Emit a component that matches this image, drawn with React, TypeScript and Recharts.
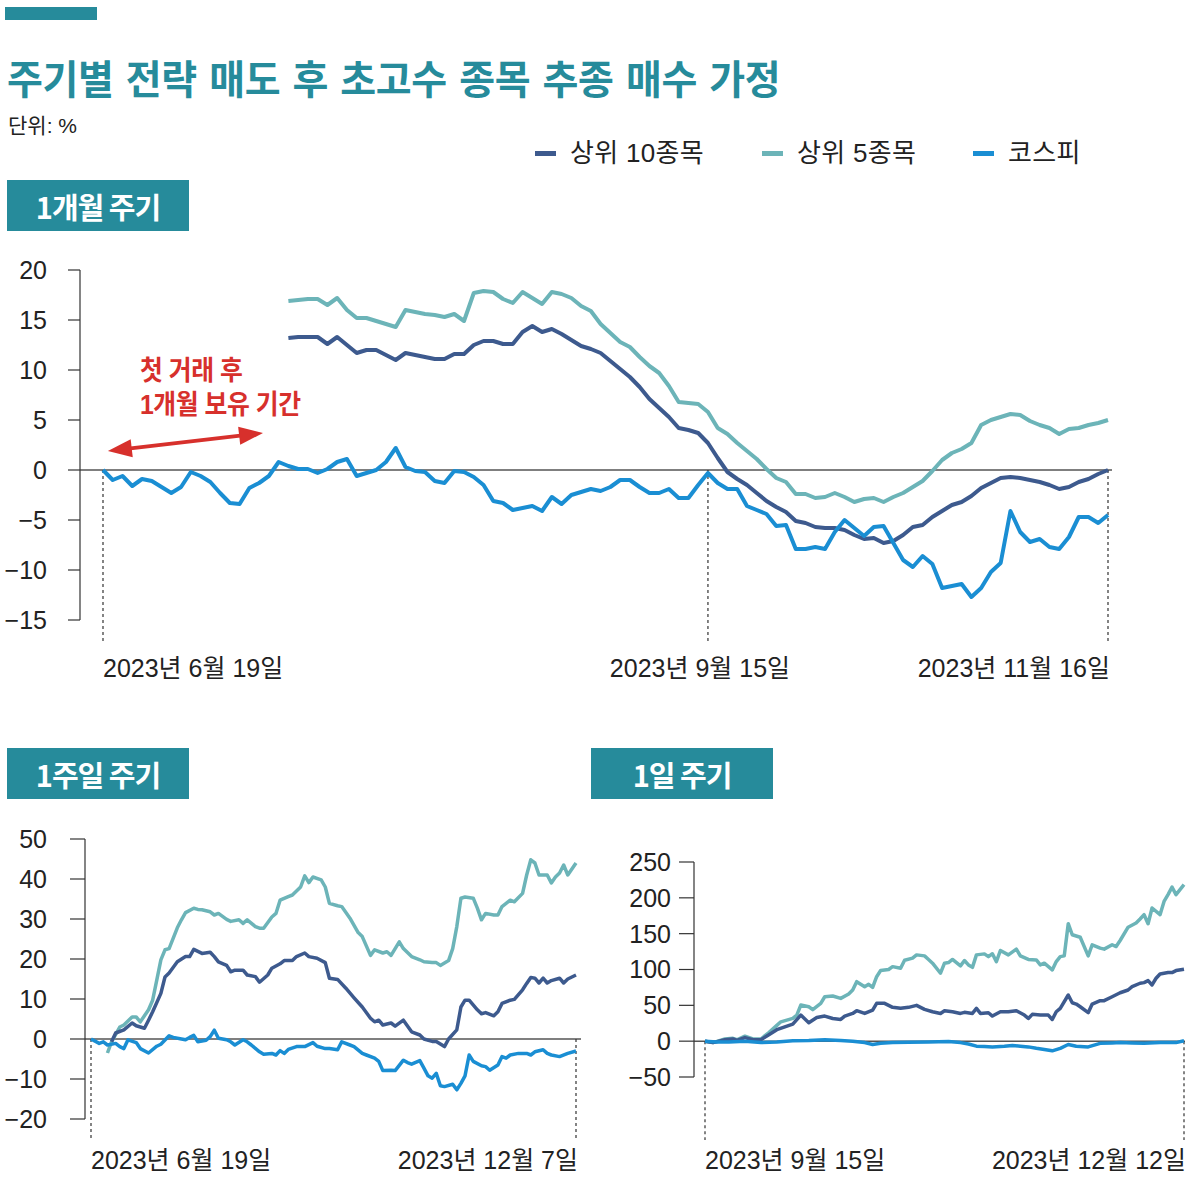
import React from 'react';
import { LineChart, Line, XAxis, YAxis, ReferenceLine } from 'recharts';

// ---------------- DATA ----------------
const seriesNames = ['상위 10종목', '상위 5종목', '코스피'];

// 1개월 주기 : trading-day index 0..103 (2023-06-19 ~ 2023-11-16)
const m1Kospi = [
  0, -1.0, -0.6, -1.6, -0.9, -1.1, -1.7, -2.3, -1.7, -0.2,
  -0.6, -1.2, -2.3, -3.3, -3.4, -1.8, -1.3, -0.6, 0.8, 0.4,
  0.1, 0.1, -0.3, 0.1, 0.8, 1.1, -0.6, -0.3, 0.0, 0.8,
  2.2, 0.3, -0.1, -0.2, -1.1, -1.3, -0.1, -0.2, -0.7, -1.5,
  -3.1, -3.3, -4.0, -3.8, -3.6, -4.1, -2.7, -3.4, -2.5, -2.2,
  -1.9, -2.1, -1.7, -1.0, -1.0, -1.7, -2.3, -2.3, -1.9, -2.8,
  -2.8, -1.5, -0.3, -1.3, -1.9, -1.9, -3.6, -4.0, -4.4, -5.6,
  -5.5, -7.9, -7.9, -7.7, -7.9, -6.2, -5.0, -5.8, -6.6, -5.7,
  -5.6, -7.3, -9.0, -9.7, -8.6, -9.4, -11.8, -11.6, -11.4, -12.7,
  -11.8, -10.2, -9.3, -4.1, -6.2, -7.2, -6.9, -7.7, -7.9, -6.7,
  -4.7, -4.7, -5.3, -4.5,
];
const m1Start = 19; // first trade after the 1-month holding period
const m1Top10 = [
  13.2, 13.3, 13.3, 13.3, 12.6, 13.3, 12.5, 11.7, 12.0, 12.0,
  11.5, 11.0, 11.7, 11.5, 11.3, 11.1, 11.1, 11.6, 11.6, 12.5,
  12.9, 12.9, 12.6, 12.6, 13.8, 14.4, 13.8, 14.1, 13.6, 13.0,
  12.4, 12.1, 11.7, 10.9, 10.1, 9.3, 8.3, 7.1, 6.2, 5.3,
  4.2, 4.0, 3.7, 2.7, 1.2, -0.2, -0.9, -1.5, -2.3, -3.1,
  -3.7, -4.2, -5.1, -5.3, -5.7, -5.8, -5.8, -6.0, -6.5, -6.9,
  -6.8, -7.3, -7.1, -6.5, -5.7, -5.5, -4.7, -4.1, -3.5, -3.2,
  -2.6, -1.8, -1.3, -0.8, -0.7, -0.8, -1.0, -1.2, -1.5, -1.9,
  -1.7, -1.2, -0.9, -0.4, 0.0,
];
const m1Top5 = [
  16.9, 17.0, 17.1, 17.1, 16.5, 17.2, 16.0, 15.2, 15.2, 14.9,
  14.6, 14.3, 16.0, 15.8, 15.6, 15.5, 15.3, 15.6, 14.9, 17.7,
  17.9, 17.8, 17.1, 16.7, 17.8, 17.2, 16.6, 17.8, 17.6, 17.2,
  16.4, 15.9, 14.6, 13.7, 12.8, 12.3, 11.3, 10.4, 9.7, 8.4,
  6.8, 6.7, 6.6, 5.8, 4.2, 3.6, 2.7, 1.9, 1.1, 0.1,
  -0.8, -1.2, -2.4, -2.4, -2.8, -2.7, -2.3, -2.7, -3.2, -2.9,
  -2.8, -3.2, -2.7, -2.3, -1.7, -1.1, -0.1, 1.0, 1.7, 2.1,
  2.7, 4.5, 5.0, 5.3, 5.6, 5.5, 4.9, 4.5, 4.2, 3.6,
  4.1, 4.2, 4.5, 4.7, 5.0,
];
const m1TickIdx = [0, 62, 103];
const m1TickLabels = ['2023년 6월 19일', '2023년 9월 15일', '2023년 11월 16일'];
const m1YTicks = [-15, -10, -5, 0, 5, 10, 15, 20];

// 1주일 주기 : [trading day, %] (2023-06-19 ~ 2023-12-07)
const w1Kospi: [number, number][] = [
  [0, 0], [2, -1.1], [3, -0.7], [4, -1.5], [6, -1.1], [7, -1.9], [8, -2.4], [9, -0.2], [11, -0.9], [12, -2.4],
  [14, -3.5], [16, -1.8], [17, -1.3], [19, 0.8], [20, 0.4], [22, 0], [23, -0.2], [24, 0.4], [25, 0.9], [26, -0.7],
  [28, -0.3], [29, 0.6], [30, 2.2], [31, 0.2], [33, -0.2], [34, -0.7], [35, -1.5], [37, -0.2], [38, -0.7], [39, -1.5],
  [41, -3.2], [42, -3.8], [44, -3.6], [45, -4.0], [46, -2.9], [47, -3.6], [48, -2.6], [50, -1.9], [52, -1.9], [54, -0.9],
  [55, -1.8], [57, -2.4], [58, -2.4], [60, -2.7], [61, -0.7], [63, -1.5], [64, -1.9], [66, -3.6], [67, -4.0], [69, -4.8],
  [70, -5.6], [71, -7.9], [73, -7.8], [74, -7.9], [76, -5.3], [77, -5.9], [78, -6.3], [80, -5.4], [81, -7.3], [82, -9.2],
  [83, -9.8], [84, -8.6], [85, -11.7], [86, -11.9], [88, -11.3], [89, -12.7], [90, -11.1], [91, -9.2], [92, -4.0], [93, -5.6],
  [95, -6.7], [96, -6.9], [97, -7.8], [99, -6.5], [100, -4.4], [101, -4.8], [102, -4.0], [104, -3.6], [106, -3.6], [107, -4.0],
  [108, -3.2], [110, -2.7], [111, -3.6], [112, -4.0], [114, -4.4], [116, -3.6], [118, -3.0],
];
const w1Top10: [number, number][] = [
  [5, -0.7], [6, 1.5], [8, 2.3], [10, 4.0], [11, 3.3], [13, 2.7], [14, 4.7], [15, 6.8], [17, 11.4], [18, 15.5],
  [19, 16.5], [21, 19.3], [23, 20.6], [24, 20.6], [25, 22.4], [26, 21.9], [27, 21.4], [29, 21.7], [30, 20.6], [31, 19.3],
  [33, 18.4], [34, 16.8], [35, 17.2], [37, 17.2], [38, 16.0], [40, 15.6], [41, 14.2], [43, 16.0], [44, 17.7], [46, 18.8],
  [47, 19.6], [49, 19.6], [50, 20.6], [52, 21.5], [53, 20.6], [55, 20.2], [57, 19.1], [58, 15.2], [60, 14.9], [62, 12.7],
  [64, 10.3], [66, 8.0], [68, 5.2], [69, 4.3], [70, 4.7], [71, 3.5], [73, 4.0], [74, 3.2], [76, 4.7], [78, 1.8],
  [80, 1.0], [81, 0], [83, -0.6], [84, -0.6], [86, -1.9], [87, 0], [89, 2.3], [90, 8.0], [91, 9.7], [92, 9.7],
  [94, 7.3], [95, 6.3], [96, 6.6], [98, 5.8], [99, 6.8], [100, 8.9], [102, 9.7], [103, 9.9], [105, 12.3], [106, 13.9],
  [107, 15.4], [108, 15.2], [109, 14.0], [110, 15.2], [111, 14.0], [112, 14.6], [114, 15.2], [115, 14.0], [116, 15.0], [118, 16.0],
];
const w1Top5: [number, number][] = [
  [4, -3.5], [5, -0.7], [7, 3.0], [8, 3.5], [10, 5.5], [11, 5.5], [12, 4.3], [14, 7.3], [15, 9.7], [16, 14.7],
  [17, 19.8], [18, 22.3], [19, 22.6], [21, 27.8], [22, 29.8], [23, 31.6], [25, 32.7], [26, 32.4], [27, 32.3], [29, 31.8],
  [30, 31.0], [31, 31.4], [33, 29.9], [34, 29.4], [36, 29.8], [37, 28.9], [38, 29.8], [40, 28.1], [41, 27.7], [42, 27.7],
  [44, 30.5], [45, 31.4], [46, 34.7], [48, 35.6], [49, 36.0], [51, 38.0], [52, 40.8], [53, 39.1], [54, 40.5], [56, 39.8],
  [57, 38.0], [58, 33.9], [60, 33.3], [61, 33.1], [63, 30.2], [65, 26.6], [66, 25.6], [68, 20.9], [69, 22.3], [71, 21.5],
  [72, 21.8], [73, 20.9], [75, 24.3], [76, 22.6], [78, 20.6], [80, 19.8], [81, 19.3], [83, 19.1], [84, 19.1], [85, 18.4],
  [87, 19.6], [88, 22.6], [89, 28.1], [90, 35.2], [91, 35.5], [93, 35.2], [94, 32.7], [95, 29.8], [96, 31.4], [98, 31.0],
  [99, 31.0], [100, 33.1], [102, 34.7], [103, 34.3], [105, 36.4], [106, 41.0], [107, 44.8], [108, 44.0], [109, 41.0], [111, 41.0],
  [112, 39.0], [113, 40.5], [114, 41.5], [115, 43.5], [116, 41.0], [118, 44.0],
];
const w1TickIdx = [0, 118];
const w1TickLabels = ['2023년 6월 19일', '2023년 12월 7일'];
const w1YTicks = [-20, -10, 0, 10, 20, 30, 40, 50];

// 1일 주기 : [step, %] (2023-09-15 ~ 2023-12-12)
const d1Kospi: [number, number][] = [
  [0, 0], [3, -1], [6, -1], [10, 0], [14, -2], [18, -1], [22, 0.5], [26, 1], [30, 2], [34, 1],
  [37, 0], [40, -2], [42, -4.7], [44, -3], [47, -2], [51, -1.5], [56, -1], [61, -0.5], [64, -2], [66, -4],
  [68, -7], [70, -7.5], [72, -8], [75, -7], [77, -6], [79, -7], [81, -8], [83, -10], [85, -11.7], [87, -13.5],
  [89, -10], [91, -4.7], [93, -7], [96, -8], [99, -3], [102, -2.5], [104, -2], [107, -2.5], [110, -3], [114, -2],
  [118, -2], [120, 0.5],
];
const d1Top10: [number, number][] = [
  [0, 0], [2, -2], [5, 2], [7, 3], [8, 1], [10, 5], [12, 2], [14, 2], [16, 9], [18, 16],
  [20, 20], [22, 23.8], [24, 36.4], [26, 25.7], [28, 33], [30, 35], [32, 31.7], [34, 30.3], [35, 35], [37, 38.7],
  [38, 42.5], [40, 38.7], [42, 43.4], [43, 52.8], [45, 52.8], [47, 47.2], [49, 45.8], [51, 47.2], [53, 50], [55, 44.4],
  [57, 41], [59, 38.7], [60, 42.5], [62, 41], [64, 38.7], [65, 40.2], [67, 38.7], [68, 45.8], [69, 38.7], [71, 39.7],
  [72, 35], [74, 41], [76, 41], [78, 42.5], [80, 36.4], [81, 31.7], [82, 37.4], [84, 36.4], [86, 36.4], [87, 30.3],
  [88, 41], [89, 45.8], [91, 64.4], [92, 53.6], [93, 51.8], [94, 48], [96, 39.7], [97, 51.8], [99, 56.5], [100, 56.5],
  [102, 62], [104, 67.6], [106, 71.4], [107, 76], [109, 80.8], [110, 81.7], [111, 84.5], [112, 78.4], [113, 87.8], [114, 93.8],
  [116, 95.7], [117, 95.7], [118, 98.5], [120, 100.4],
];
const d1Top5: [number, number][] = [
  [0, 0], [2, -2], [5, 3], [7, 4], [8, 2], [10, 7], [12, 3], [14, 3], [16, 12], [18, 22],
  [19, 27], [22, 31.8], [23, 36.4], [24, 50.4], [26, 48], [27, 44], [29, 52.7], [30, 62], [32, 63], [34, 59.7],
  [36, 65.8], [37, 71.4], [38, 83], [40, 76], [41, 79.4], [42, 75], [43, 90], [44, 98.5], [46, 100], [47, 104],
  [49, 101.8], [50, 113], [52, 115.8], [53, 120.4], [55, 119], [56, 114], [57, 108.8], [59, 94.8], [60, 108.8], [61, 109.7],
  [62, 114], [64, 105], [65, 112.5], [66, 106.4], [67, 103], [68, 120.4], [70, 121.8], [71, 118], [72, 122], [73, 111],
  [74, 126.5], [76, 120.4], [78, 128.4], [79, 119], [81, 114], [83, 113.4], [84, 106.4], [85, 108.8], [87, 99.4], [88, 111],
  [89, 118], [90, 119], [91, 163.9], [92, 148.5], [94, 145], [96, 119], [97, 134.5], [99, 129.8], [100, 128.4], [102, 134.5],
  [103, 132], [104, 140.5], [106, 159], [108, 164.8], [109, 170.4], [110, 176.5], [111, 163.9], [112, 185.8], [114, 176.5], [115, 195],
  [116, 204.5], [117, 215], [118, 204.5], [120, 218.5],
];
const d1TickIdx = [0, 120];
const d1TickLabels = ['2023년 9월 15일', '2023년 12월 12일'];
const d1YTicks = [-50, 0, 50, 100, 150, 200, 250];

// ---------------- STYLE ----------------
const C_TOP10 = '#3d5a8e';
const C_TOP5 = '#6cb4b8';
const C_KOSPI = '#1a8ed3';
const TEAL = '#268b9b';
const RED = '#d7302c';
const INK = '#222';
const AXIS = '#333';
const FONT = "'Liberation Sans', 'Noto Sans CJK KR', sans-serif";
const KR = "'Noto Sans CJK KR', 'Liberation Sans', sans-serif";
const seriesColors = [C_TOP10, C_TOP5, C_KOSPI];

// ---------------- HELPERS ----------------
const m1Rows = m1Kospi.map((k, i) => ({
  i,
  kospi: k,
  top10: i >= m1Start ? m1Top10[i - m1Start] : null,
  top5: i >= m1Start ? m1Top5[i - m1Start] : null,
}));

function mergeSeries(series: Record<string, [number, number][]>) {
  const map = new Map<number, any>();
  Object.entries(series).forEach(([key, pts]) => {
    pts.forEach(([d, v]) => {
      if (!map.has(d)) map.set(d, { d });
      map.get(d)[key] = v;
    });
  });
  return Array.from(map.values()).sort((a, b) => a.d - b.d);
}
const w1Rows = mergeSeries({ kospi: w1Kospi, top10: w1Top10, top5: w1Top5 });
const d1Rows = mergeSeries({ kospi: d1Kospi, top10: d1Top10, top5: d1Top5 });

const fmt = (v: number) => (v < 0 ? '\u2212' + Math.abs(v) : String(v));

const makeDateTick = (ticks: number[], labels: string[], anchors: string[], dxs: number[], dy: number) =>
  (props: any) => {
    const { x, y, payload } = props;
    const k = ticks.indexOf(payload.value);
    if (k < 0) return <g />;
    return (
      <text x={x + dxs[k]} y={y + dy} textAnchor={anchors[k]} fontSize={25} fill={INK} fontFamily={FONT} letterSpacing={0}>
        {labels[k]}
      </text>
    );
  };

const ArrowShape = (p: any) => {
  const { x1, y1, x2, y2 } = p;
  const ang = Math.atan2(y2 - y1, x2 - x1);
  const L = 24;
  const W = 9;
  const head = (tx: number, ty: number, dir: number) => {
    const bx = tx - L * Math.cos(dir);
    const by = ty - L * Math.sin(dir);
    const nx = -Math.sin(dir) * W;
    const ny = Math.cos(dir) * W;
    return `${tx},${ty} ${bx + nx},${by + ny} ${bx - nx},${by - ny}`;
  };
  const s = 12;
  return (
    <g>
      <line x1={x1 + s * Math.cos(ang)} y1={y1 + s * Math.sin(ang)} x2={x2 - s * Math.cos(ang)} y2={y2 - s * Math.sin(ang)} stroke={RED} strokeWidth={4} />
      <polygon points={head(x2, y2, ang)} fill={RED} />
      <polygon points={head(x1, y1, ang + Math.PI)} fill={RED} />
    </g>
  );
};

const yTickStyle = { fontSize: 25, fill: INK, fontFamily: FONT };
const dashed = { stroke: AXIS, strokeDasharray: '3 3', strokeWidth: 1.2 };

const SectionBox = ({ left, top, text }: { left: number; top: number; text: string }) => (
  <div style={{ position: 'absolute', left, top, width: 182, height: 51, background: TEAL, display: 'flex', alignItems: 'center', justifyContent: 'center' }}>
    <span style={{ color: '#fff', fontFamily: KR, fontWeight: 700, fontSize: 29, whiteSpace: 'nowrap', letterSpacing: -1, lineHeight: '32px' }}>{text}</span>
  </div>
);

const seriesLines = (w: number) => [
  <Line key="t5" type="linear" dataKey="top5" stroke={C_TOP5} strokeWidth={w} dot={false} connectNulls isAnimationActive={false} strokeLinejoin="round" />,
  <Line key="t10" type="linear" dataKey="top10" stroke={C_TOP10} strokeWidth={w} dot={false} connectNulls isAnimationActive={false} strokeLinejoin="round" />,
  <Line key="k" type="linear" dataKey="kospi" stroke={C_KOSPI} strokeWidth={w} dot={false} connectNulls isAnimationActive={false} strokeLinejoin="round" />,
];

const annoStyle: React.CSSProperties = {
  position: 'absolute', left: 140, color: RED, fontFamily: FONT, fontWeight: 700, fontSize: 27, lineHeight: '28px',
  whiteSpace: 'nowrap', transform: 'scaleX(0.92)', transformOrigin: 'left top', letterSpacing: -0.5,
};

export default function App() {
  const legendPos = [535, 762, 973];
  return (
    <div style={{ position: 'absolute', left: 0, top: 0, width: 1200, height: 1190, background: '#fff', fontFamily: FONT, overflow: 'hidden' }}>
      <div style={{ position: 'absolute', left: 5, top: 7, width: 92, height: 13, background: TEAL }} />
      <div style={{ position: 'absolute', left: 7, top: 53, fontFamily: KR, fontWeight: 700, fontSize: 40, lineHeight: '48px', color: TEAL, whiteSpace: 'nowrap', transform: 'scaleX(0.975)', transformOrigin: 'left top', wordSpacing: 4, letterSpacing: -0.4 }}>
        주기별 전략 매도 후 초고수 종목 추종 매수 가정
      </div>
      <div style={{ position: 'absolute', left: 8, top: 113, fontSize: 21, lineHeight: '26px', color: INK, whiteSpace: 'nowrap' }}>단위: %</div>

      {seriesNames.map((n, k) => (
        <div key={n} style={{ position: 'absolute', left: legendPos[k], top: 138, height: 30, display: 'flex', alignItems: 'center', whiteSpace: 'nowrap' }}>
          <div style={{ width: 21, height: 5, background: seriesColors[k], marginRight: 14 }} />
          <span style={{ fontSize: 26, color: INK, lineHeight: '30px', letterSpacing: 0.3 }}>{n}</span>
        </div>
      ))}

      <SectionBox left={7} top={180} text="1개월 주기" />
      <SectionBox left={7} top={748} text="1주일 주기" />
      <SectionBox left={591} top={748} text="1일 주기" />

      <div style={{ ...annoStyle, top: 357 }}>첫 거래 후</div>
      <div style={{ ...annoStyle, top: 391 }}>1개월 보유 기간</div>

      {/* 1개월 주기 */}
      <div style={{ position: 'absolute', left: 0, top: 250 }}>
        <LineChart width={1200} height={440} data={m1Rows} margin={{ top: 20, right: 88, bottom: 0, left: 0 }}>
          <XAxis type="number" dataKey="i" domain={[0, 103]} ticks={m1TickIdx} interval={0} padding={{ left: 23, right: 4 }} axisLine={false} tickLine={false} height={70}
            tick={makeDateTick(m1TickIdx, m1TickLabels, ['start', 'middle', 'end'], [0, -8, 2], 49)} />
          <YAxis type="number" domain={[-15, 20]} ticks={m1YTicks} interval={0} width={80} axisLine={{ stroke: AXIS, strokeWidth: 1.2 }} tickLine={{ stroke: AXIS, strokeWidth: 1.2 }} tickSize={12} tickMargin={21} tick={yTickStyle} tickFormatter={fmt} />
          <ReferenceLine y={0} stroke="#555" strokeWidth={1.5} />
          <ReferenceLine segment={[{ x: 0, y: 0 }, { x: 0, y: -17.3 }]} ifOverflow="visible" {...dashed} />
          <ReferenceLine segment={[{ x: 62, y: 0 }, { x: 62, y: -17.3 }]} ifOverflow="visible" {...dashed} />
          <ReferenceLine segment={[{ x: 103, y: 0 }, { x: 103, y: -17.3 }]} ifOverflow="visible" {...dashed} />
          <ReferenceLine segment={[{ x: 0.5, y: 1.9 }, { x: 16.4, y: 3.7 }]} ifOverflow="visible" shape={ArrowShape} />
          {seriesLines(4)}
        </LineChart>
      </div>

      {/* 1주일 주기 */}
      <div style={{ position: 'absolute', left: 0, top: 820 }}>
        <LineChart width={600} height={369} data={w1Rows} margin={{ top: 19, right: 19, bottom: 0, left: 0 }}>
          <XAxis type="number" dataKey="d" domain={[0, 118]} ticks={w1TickIdx} interval={0} padding={{ left: 6, right: 5 }} axisLine={false} tickLine={false} height={70}
            tick={makeDateTick(w1TickIdx, w1TickLabels, ['start', 'end'], [0, 2], 42)} />
          <YAxis type="number" domain={[-20, 50]} ticks={w1YTicks} interval={0} width={85} axisLine={{ stroke: AXIS, strokeWidth: 1.2 }} tickLine={{ stroke: AXIS, strokeWidth: 1.2 }} tickSize={15} tickMargin={23} tick={yTickStyle} tickFormatter={fmt} />
          <ReferenceLine y={0} stroke="#555" strokeWidth={1.5} />
          <ReferenceLine segment={[{ x: 0, y: 0 }, { x: 0, y: -25.3 }]} ifOverflow="visible" {...dashed} />
          <ReferenceLine segment={[{ x: 118, y: 0 }, { x: 118, y: -25.3 }]} ifOverflow="visible" {...dashed} />
          {seriesLines(3.5)}
        </LineChart>
      </div>

      {/* 1일 주기 */}
      <div style={{ position: 'absolute', left: 600, top: 840 }}>
        <LineChart width={600} height={347} data={d1Rows} margin={{ top: 22, right: 15, bottom: 0, left: 0 }}>
          <XAxis type="number" dataKey="d" domain={[0, 120]} ticks={d1TickIdx} interval={0} padding={{ left: 11, right: 1 }} axisLine={false} tickLine={false} height={110}
            tick={makeDateTick(d1TickIdx, d1TickLabels, ['start', 'end'], [0, 2], 84)} />
          <YAxis type="number" domain={[-50, 250]} ticks={d1YTicks} interval={0} width={94} axisLine={{ stroke: AXIS, strokeWidth: 1.2 }} tickLine={{ stroke: AXIS, strokeWidth: 1.2 }} tickSize={15} tickMargin={8} tick={yTickStyle} tickFormatter={fmt} />
          <ReferenceLine y={0} stroke="#555" strokeWidth={1.5} />
          <ReferenceLine segment={[{ x: 0, y: 0 }, { x: 0, y: -138 }]} ifOverflow="visible" {...dashed} />
          <ReferenceLine segment={[{ x: 120, y: 0 }, { x: 120, y: -138 }]} ifOverflow="visible" {...dashed} />
          {seriesLines(3.5)}
        </LineChart>
      </div>
    </div>
  );
}
